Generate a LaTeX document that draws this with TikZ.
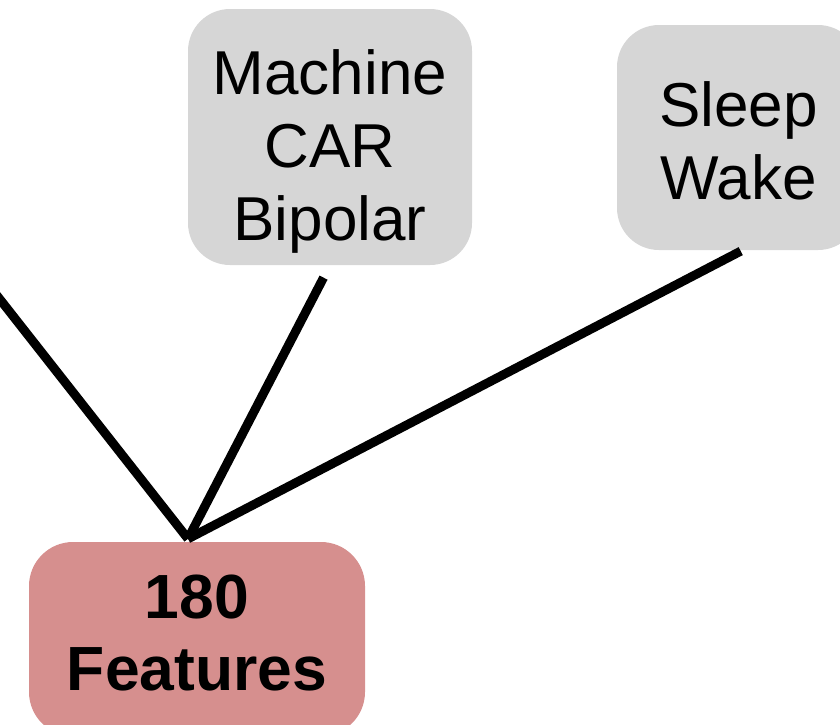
\documentclass[tikz,border=0pt]{standalone}
\usepackage{fontspec}
\setmainfont{Liberation Sans}
\usepackage{tikz}
\usetikzlibrary{positioning, calc}

\definecolor{boxgrey}{HTML}{D6D6D6}
\definecolor{featred}{HTML}{D68F8E}

\begin{document}
\begin{tikzpicture}[
    x=1pt, y=-1pt,
    greybox/.style={fill=boxgrey, rounded corners=42pt, align=center,
        font=\fontsize{62}{73}\selectfont},
    featbox/.style={fill=featred, rounded corners=44pt, align=center,
        font=\fontsize{62.4}{72}\selectfont\bfseries},
    link/.style={line width=9pt, black}
]

% === page frame ===
\useasboundingbox (0,0) rectangle (840,724);
\clip (0,0) rectangle (840,724);

% === boxes ===
\node[greybox, minimum width=284pt, minimum height=256pt, text height=219pt] (machine) at (330,137) {Machine\\CAR\\Bipolar};
\node[greybox, minimum width=243pt, minimum height=225pt, text height=124pt] (sleep) at (738.5,137.5) {Sleep\\Wake};
\node[featbox, minimum width=336pt, minimum height=194pt, text depth=12pt] (feat) at (197,639) {180\\Features};

% === connectors ===
\coordinate (hub) at ([xshift=-9pt, yshift=3pt]feat.north);
\coordinate (offleft) at (-60,223);
\draw[link] (hub) -- (offleft);
\draw[link, shorten >=14pt] (hub) -- (machine.south);
\draw[link, shorten >=2pt] (hub) -- ([xshift=4pt]sleep.south);

\end{tikzpicture}
\end{document}
